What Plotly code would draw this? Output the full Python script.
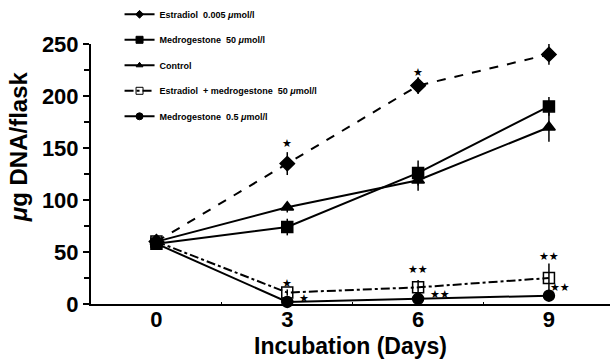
import plotly.graph_objects as go

days = [0, 3, 6, 9]

series_names = [
    "Estradiol  0.005 <i>μ</i>mol/l",
    "Medrogestone  50 <i>μ</i>mol/l",
    "Control",
    "Estradiol  + medrogestone  50 <i>μ</i>mol/l",
    "Medrogestone  0.5 <i>μ</i>mol/l",
]
estradiol = [60, 135, 210, 240]
estradiol_err = [0, 11, 8, 10]
medro50 = [58, 74, 126, 190]
medro50_err = [0, 8, 12, 9]
control = [60, 93, 119, 170]
control_err = [0, 5, 10, 14]
estr_medro = [60, 11, 16, 25]
estr_medro_err = [0, 3, 7, 14]
medro05 = [58, 2, 5, 8]
medro05_err = [0, 1, 1, 1]

star_text = ["★", "★", "★", "★", "★", "★★", "★★", "★★", "★★"]
star_x = [3, 6, 9, 3, 3.38, 6, 6.5, 9, 9.25]
star_y = [154, 223, 255, 20, 5, 33, 9, 46, 16]

x_ticks = [0, 3, 6, 9]
y_ticks = [0, 50, 100, 150, 200, 250]

values = [estradiol, medro50, control, estr_medro, medro05]
errors = [estradiol_err, medro50_err, control_err, estr_medro_err, medro05_err]
styles = [
    dict(dash="dash", symbol="diamond", size=11, lsize=6),
    dict(dash="solid", symbol="square", size=11, lsize=7),
    dict(dash="solid", symbol="triangle-up", size=11, lsize=6),
    dict(dash="dashdot", symbol="square-open", size=11, lsize=7),
    dict(dash="solid", symbol="circle", size=11, lsize=7),
]
legend_dash = ["solid", "solid", "solid", "dashdot", "solid"]

FONT = "Liberation Sans, Arial, sans-serif"
fig = go.Figure()
for i, (name, v, e, st) in enumerate(zip(series_names, values, errors, styles)):
    fig.add_trace(go.Scatter(
        x=days, y=v, name=name, mode="lines+markers",
        line=dict(color="black", width=2, dash=st["dash"]),
        marker=dict(symbol=st["symbol"], size=st["size"], color="black",
                    line=dict(color="black", width=1.5)),
        error_y=dict(type="data", array=e, visible=True, color="black",
                     thickness=1.5, width=0),
        showlegend=False,
        cliponaxis=False,
    ))
    # legend-only entry with small symbols, as in the reference key
    fig.add_trace(go.Scatter(
        x=[None], y=[None], name=name, mode="lines+markers",
        line=dict(color="black", width=2, dash=legend_dash[i]),
        marker=dict(symbol=st["symbol"], size=st["lsize"], color="black",
                    line=dict(color="black", width=1)),
        legendgroup=f"g{i}", showlegend=True,
    ))

for t, x, y in zip(star_text, star_x, star_y):
    fig.add_annotation(x=x, y=y, xref="x", yref="y", text=t, showarrow=False,
                       font=dict(size=11, color="black", family="DejaVu Sans"),
                       xanchor="center", yanchor="middle")

# axis titles
fig.add_annotation(x=0.5, xref="paper", y=-0.162, yref="paper", yanchor="middle",
                   xanchor="center",
                   text="<b>Incubation (Days)</b>", showarrow=False,
                   font=dict(size=23, color="black", family=FONT))
fig.add_annotation(x=-0.139, xref="paper", y=0.606, yref="paper",
                   xanchor="center", yanchor="middle",
                   text="<b><i>μ</i>g DNA/flask</b>", textangle=-90, showarrow=False,
                   font=dict(size=24, color="black", family=FONT))

fig.update_xaxes(range=[-1.5, 10.4], tickvals=x_ticks, ticktext=[f"<b>{t}</b>" for t in x_ticks],
                 showline=True, linecolor="black", linewidth=2, showgrid=False, zeroline=False,
                 ticks="", ticklabelstandoff=-5,
                 tickfont=dict(size=22, color="black", family=FONT),
                 minor=dict(tickvals=[1.5, 4.5, 7.5], ticks="inside", ticklen=2, tickcolor="black"))
fig.update_yaxes(range=[0, 250], tickvals=y_ticks, ticktext=[f"<b>{t}</b>" for t in y_ticks],
                 showline=True, linecolor="black", linewidth=2, showgrid=False, zeroline=False,
                 ticks="outside", ticklen=6, tickwidth=1.5, tickcolor="black",
                 tickfont=dict(size=22, color="black", family=FONT),
                 minor=dict(tickvals=[25, 75, 125, 175, 225], ticks="outside", ticklen=5,
                            tickwidth=1.5, tickcolor="black"))

fig.update_layout(
    width=610, height=361,
    margin=dict(l=91, r=0, t=44, b=57, autoexpand=False),
    paper_bgcolor="white", plot_bgcolor="white",
    font=dict(family=FONT, color="black"),
    showlegend=True,
    legend=dict(x=0.055, y=1.17, xanchor="left", yanchor="top",
                font=dict(size=9, family=FONT, color="black", weight="bold"),
                tracegroupgap=6.5, bgcolor="rgba(0,0,0,0)"),
)
fig.write_html("out.html", config={"displayModeBar": False},
               post_script="document.body.style.margin='0';document.body.style.overflow='hidden';")
